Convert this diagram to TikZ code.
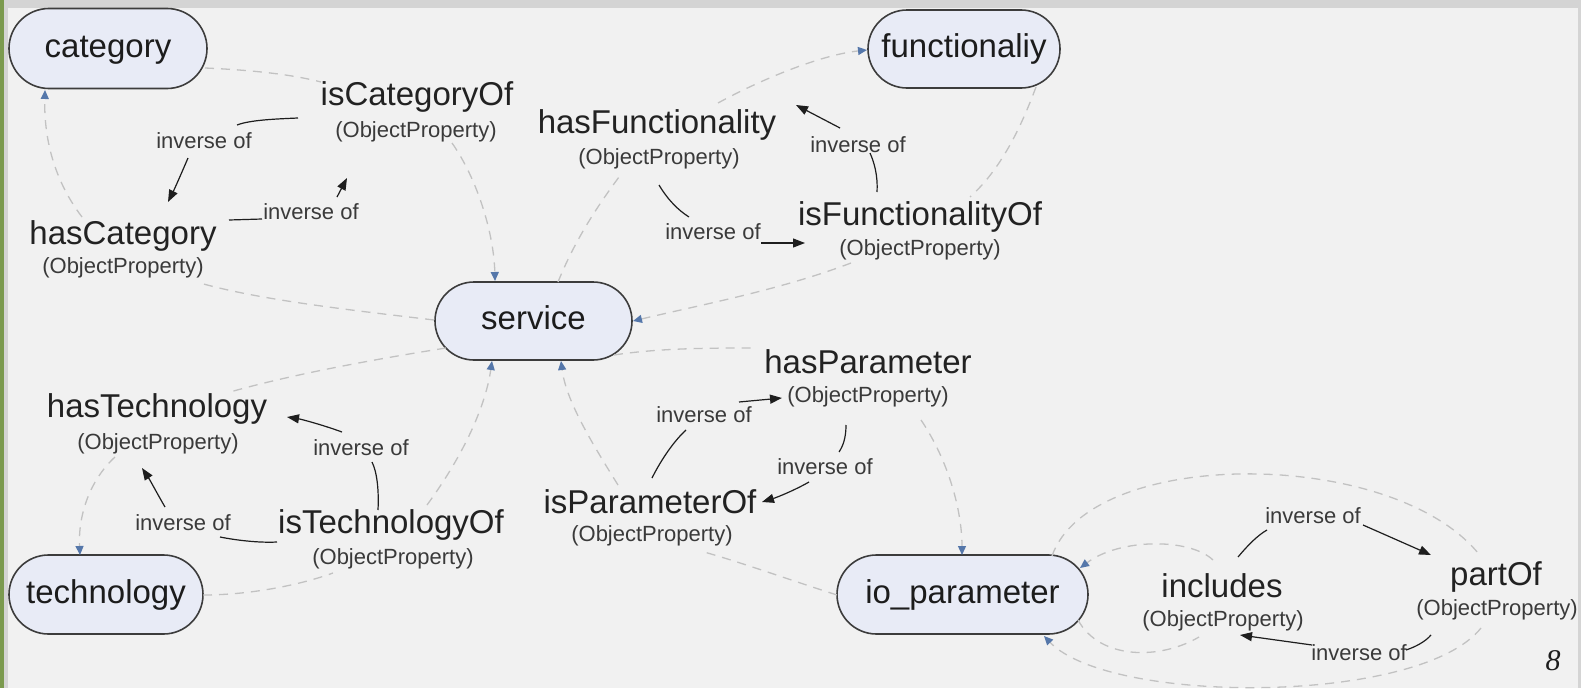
\documentclass[tikz,border=0pt]{standalone}
\usepackage{fontspec}
\setmainfont{Liberation Sans}
\newfontfamily\pagefont{Liberation Serif}
\usetikzlibrary{shapes.misc,arrows.meta}
\definecolor{bg}{HTML}{F1F1F1}
\definecolor{band}{HTML}{D4D4D4}
\definecolor{leafgreen}{HTML}{7B9A4E}
\definecolor{pillfill}{HTML}{E8EBF6}
\definecolor{pillborder}{HTML}{3C3C3C}
\definecolor{clstext}{HTML}{1C1C1C}
\definecolor{proptext}{HTML}{222222}
\definecolor{subtext}{HTML}{3A3A3A}
\definecolor{dashgray}{HTML}{C2C2C2}
\definecolor{tipblue}{HTML}{5577AA}
\definecolor{inkblack}{HTML}{1E1E1E}
\begin{document}
\begin{tikzpicture}[x=1pt,y=-1pt,
  cls/.style={rounded rectangle, draw=pillborder, line width=1.6pt, fill=pillfill, text=clstext,
    font=\fontsize{33}{36}\selectfont, inner sep=0pt, text height=24pt, text depth=7pt},
  pname/.style={text=proptext, font=\fontsize{33}{36}\selectfont, inner sep=0pt, text height=24pt, text depth=7pt},
  ptype/.style={text=subtext, font=\fontsize{22}{24}\selectfont, inner sep=0pt, text height=16pt, text depth=4.6pt},
  invlbl/.style={text=subtext, font=\fontsize{22}{24}\selectfont, inner sep=0pt, text height=16pt, text depth=0pt},
  dl/.style={draw=dashgray, line width=1.3pt, dash pattern=on 9pt off 7pt},
  dla/.style={dl, -{Triangle[length=9pt,width=8pt,color=tipblue]}},
  invline/.style={draw=inkblack, line width=1.2pt},
  invarrow/.style={invline, -{Triangle[length=12pt,width=9pt]}}
]
\useasboundingbox (0,0) rectangle (1581,688);
\clip (0,0) rectangle (1581,688);
% frame
\fill[bg] (0,0) rectangle (1581,688);
\fill[band] (0,0) rectangle (1581,8);
\fill[band] (0,0) rectangle (8,688);
\fill[leafgreen] (0,0) rectangle (3.5,688);
\fill[band] (1578,0) rectangle (1581,688);

% class nodes
\node[cls, minimum width=198pt, minimum height=80pt] (category) at (108,48.5) {category};
\node[cls, minimum width=192pt, minimum height=78pt] (functionaliy) at (964,49) {functionaliy};
\node[cls, minimum width=197pt, minimum height=78pt] (service) at (533.5,321) {service};
\node[cls, minimum width=194pt, minimum height=79pt] (technology) at (106,594.5) {technology};
\node[cls, minimum width=251pt, minimum height=79pt] (ioparam) at (962.5,594.5) {io\_parameter};

% property nodes
\node[pname] (isCat) at (417,97) {isCategoryOf};
\node[ptype] (isCatT) at (416,132) {(ObjectProperty)};
\node[pname] (hasCat) at (123,236) {hasCategory};
\node[ptype] (hasCatT) at (123,268) {(ObjectProperty)};
\node[pname] (hasFun) at (657,125) {hasFunctionality};
\node[ptype] (hasFunT) at (659,159) {(ObjectProperty)};
\node[pname] (isFun) at (920,217) {isFunctionalityOf};
\node[ptype] (isFunT) at (920,250) {(ObjectProperty)};
\node[pname] (hasTec) at (157,409) {hasTechnology};
\node[ptype] (hasTecT) at (158,444) {(ObjectProperty)};
\node[pname] (isTec) at (391,525) {isTechnologyOf};
\node[ptype] (isTecT) at (393,559) {(ObjectProperty)};
\node[pname] (hasPar) at (868,364.5) {hasParameter};
\node[ptype] (hasParT) at (868,397) {(ObjectProperty)};
\node[pname] (isPar) at (650,504.5) {isParameterOf};
\node[ptype] (isParT) at (652,536) {(ObjectProperty)};
\node[pname] (incl) at (1222,588.5) {includes};
\node[ptype] (inclT) at (1223,621) {(ObjectProperty)};
\node[pname] (partof) at (1496,577) {partOf};
\node[ptype] (partofT) at (1497,610) {(ObjectProperty)};

% inverse-of labels
\node[invlbl] (inv1) at (204,140) {inverse of};
\node[invlbl] (inv2) at (311,211) {inverse of};
\node[invlbl] (inv3) at (858,144) {inverse of};
\node[invlbl] (inv4) at (713,231) {inverse of};
\node[invlbl] (inv5) at (361,447) {inverse of};
\node[invlbl] (inv6) at (183,522) {inverse of};
\node[invlbl] (inv7) at (704,414) {inverse of};
\node[invlbl] (inv8) at (825,466) {inverse of};
\node[invlbl] (inv9) at (1313,515) {inverse of};
\node[invlbl] (inv10) at (1359,652) {inverse of};

% page number
\node[text=inkblack, font=\pagefont\itshape\fontsize{30}{32}\selectfont, inner sep=0pt] (pageno) at (1553,661) {8};

% ---- dashed domain/range connectors: named end points
\coordinate (a1s) at (205,68);   \coordinate (a1e) at (321,82);
\coordinate (a2s) at (452,143);  \coordinate (a2e) at (495,281);
\coordinate (b1s) at (434,320);  \coordinate (b1e) at (200,283);
\coordinate (b2s) at (82,217);   \coordinate (b2e) at (45,90);
\coordinate (c1s) at (558,282);  \coordinate (c1e) at (622,173);
\coordinate (c2s) at (718,103);  \coordinate (c2e) at (867,50);
\coordinate (d1s) at (1036,87);  \coordinate (d1e) at (970,197);
\coordinate (d2s) at (851,263);  \coordinate (d2e) at (633,321);
\coordinate (e1s) at (446,348);  \coordinate (e1e) at (230,392);
\coordinate (e2s) at (115,457);  \coordinate (e2e) at (80,555);
\coordinate (f1s) at (203,595);  \coordinate (f1e) at (333,573);
\coordinate (f2s) at (427,505);  \coordinate (f2e) at (492,361);
\coordinate (g1s) at (837,595);  \coordinate (g1e) at (704,552);
\coordinate (g2s) at (618,485);  \coordinate (g2e) at (561,361);
\coordinate (h1s) at (614,355);  \coordinate (h1e) at (757,348);
\coordinate (h2s) at (921,420);  \coordinate (h2e) at (962,555);
\coordinate (i1s) at (1078,620); \coordinate (i1e) at (1199,637);
\coordinate (i2s) at (1213,560); \coordinate (i2e) at (1080,568);
\coordinate (j1s) at (1052,556); \coordinate (j1e) at (1478,553);
\coordinate (j2s) at (1481,628); \coordinate (j2e) at (1044,636);

\draw[dl]  (a1s) .. controls (250,70) and (290,74) .. (a1e);
\draw[dla] (a2s) .. controls (478,180) and (494,235) .. (a2e);
\draw[dl]  (b1s) .. controls (350,310) and (260,300) .. (b1e);
\draw[dla] (b2s) .. controls (50,175) and (44,130) .. (b2e);
\draw[dl]  (c1s) .. controls (575,240) and (598,205) .. (c1e);
\draw[dla] (c2s) .. controls (760,80) and (820,55) .. (c2e);
\draw[dl]  (d1s) .. controls (1020,130) and (1000,170) .. (d1e);
\draw[dla] (d2s) .. controls (780,290) and (700,305) .. (d2e);
\draw[dl]  (e1s) .. controls (370,360) and (290,375) .. (e1e);
\draw[dla] (e2s) .. controls (90,480) and (78,515) .. (e2e);
\draw[dl]  (f1s) .. controls (250,595) and (300,585) .. (f1e);
\draw[dla] (f2s) .. controls (460,460) and (485,410) .. (f2e);
\draw[dl]  (g1s) .. controls (790,580) and (740,562) .. (g1e);
\draw[dla] (g2s) .. controls (590,440) and (566,400) .. (g2e);
\draw[dl]  (h1s) .. controls (660,348) and (710,348) .. (h1e);
\draw[dla] (h2s) .. controls (948,460) and (962,510) .. (h2e);
\draw[dl]  (i1s) .. controls (1100,660) and (1160,660) .. (i1e);
\draw[dla] (i2s) .. controls (1190,538) and (1120,538) .. (i2e);
\draw[dl]  (j1s) .. controls (1090,447) and (1390,447) .. (j1e);
\draw[dla] (j2s) .. controls (1420,705) and (1110,705) .. (j2e);

% ---- black inverse-of connectors
\coordinate (k1a) at (298,118);  \coordinate (k1b) at (237,125);
\coordinate (k1c) at (188,158);  \coordinate (k1d) at (168,202);
\coordinate (k2a) at (229,220);  \coordinate (k2b) at (262,219);
\coordinate (k2c) at (337,197);  \coordinate (k2d) at (347,178);
\coordinate (k3a) at (877,192);  \coordinate (k3b) at (870,153);
\coordinate (k3c) at (840,128);  \coordinate (k3d) at (796,105);
\coordinate (k4a) at (659,185);  \coordinate (k4b) at (689,217);
\coordinate (k4c) at (761,243);  \coordinate (k4d) at (805,243);
\coordinate (k5a) at (378,510);  \coordinate (k5b) at (372,462);
\coordinate (k5c) at (342,432);  \coordinate (k5d) at (287,417);
\coordinate (k6a) at (277,542);  \coordinate (k6b) at (220,537);
\coordinate (k6c) at (165,507);  \coordinate (k6d) at (142,468);
\coordinate (k7a) at (652,478);  \coordinate (k7b) at (686,430);
\coordinate (k7c) at (739,402);  \coordinate (k7d) at (782,398);
\coordinate (k8a) at (846,425);  \coordinate (k8b) at (839,452);
\coordinate (k8c) at (809,482);  \coordinate (k8d) at (762,502);
\coordinate (k9a) at (1238,557); \coordinate (k9b) at (1267,530);
\coordinate (k9c) at (1363,525); \coordinate (k9d) at (1431,555);
\coordinate (k10a) at (1431,635); \coordinate (k10b) at (1406,650);
\coordinate (k10c) at (1312,645); \coordinate (k10d) at (1240,635);

\draw[invline]  (k1a) .. controls (275,119) and (250,120) .. (k1b);
\draw[invarrow] (k1c) .. controls (182,172) and (175,188) .. (k1d);
\draw[invline]  (k2a) -- (k2b);
\draw[invarrow] (k2c) -- (k2d);
\draw[invline]  (k3a) .. controls (878,175) and (874,162) .. (k3b);
\draw[invarrow] (k3c) -- (k3d);
\draw[invline]  (k4a) .. controls (668,200) and (678,210) .. (k4b);
\draw[invarrow] (k4c) -- (k4d);
\draw[invline]  (k5a) .. controls (379,490) and (377,472) .. (k5b);
\draw[invarrow] (k5c) .. controls (320,424) and (300,419) .. (k5d);
\draw[invline]  (k6a) .. controls (258,543) and (235,540) .. (k6b);
\draw[invarrow] (k6c) .. controls (158,495) and (150,480) .. (k6d);
\draw[invline]  (k7a) .. controls (662,458) and (675,440) .. (k7b);
\draw[invarrow] (k7c) -- (k7d);
\draw[invline]  (k8a) .. controls (846,438) and (843,446) .. (k8b);
\draw[invarrow] (k8c) .. controls (795,490) and (778,497) .. (k8d);
\draw[invline]  (k9a) .. controls (1248,545) and (1258,535) .. (k9b);
\draw[invarrow] (k9c) -- (k9d);
\draw[invline]  (k10a) .. controls (1425,642) and (1415,647) .. (k10b);
\draw[invarrow] (k10c) -- (k10d);
\end{tikzpicture}
\end{document}
